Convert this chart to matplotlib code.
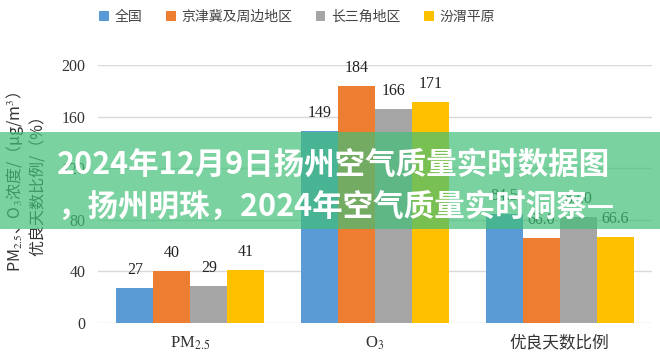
import matplotlib
matplotlib.use("Agg")
import matplotlib.pyplot as plt
from matplotlib.patches import Patch, Rectangle
import numpy as np

plt.rcParams['mathtext.fontset'] = 'stix'

CJK = 'Noto Sans CJK SC'
SERIF = 'Liberation Serif'

categories = ["PM$_{2.5}$", "O$_{3}$", "优良天数比例"]
series_names = ["全国", "京津冀及周边地区", "长三角地区", "汾渭平原"]
series_values = [
    [27, 149, 84.5],
    [40, 184, 66.0],
    [29, 166, 82.0],
    [41, 171, 66.6],
]
value_formats = ["{:.0f}", "{:.0f}", "{:.1f}"]
colors = ["#5B9BD5", "#ED7D31", "#A5A5A5", "#FFC000"]
yticks = [0, 40, 80, 120, 160, 200]

banner_lines = ["2024年12月9日扬州空气质量实时数据图", "，扬州明珠，2024年空气质量实时洞察—"]

fig = plt.figure(figsize=(6.6, 3.62), dpi=100)
ax = fig.add_axes([98 / 660, 1 - 323 / 362, 554 / 660, 258 / 362])

x = np.arange(len(categories))
width = 0.2
for i, vals in enumerate(series_values):
    pos = x + (i - 1.5) * width
    ax.bar(pos, vals, width=width, color=colors[i], zorder=2)
    for p, v, fmt in zip(pos, vals, value_formats):
        ax.annotate(fmt.format(v), (p, v), xytext=(0, 13), textcoords="offset points",
                    ha="center", va="center", fontsize=11.5, family=SERIF, color="#222222")

ax.set_xlim(-0.5, 2.5)
ax.set_ylim(0, 200)
ax.set_yticks(yticks)
ax.set_yticklabels([str(t) for t in yticks], family=SERIF, fontsize=11.5, color="#333333")
ax.set_xticks(x)
ax.set_xticklabels(categories, fontsize=12, color="#333333")
for lab, fam in zip(ax.get_xticklabels(), [SERIF, SERIF, CJK]):
    lab.set_fontfamily(fam)
ax.tick_params(axis="both", length=0)
ax.tick_params(axis="y", pad=9)
ax.tick_params(axis="x", pad=8)
ax.grid(axis="y", color="#D9D9D9", linewidth=1, zorder=0)
ax.set_axisbelow(True)
for s in ax.spines.values():
    s.set_visible(False)

# y axis title, two lines
fig.text(15 / 660, 1 - 182 / 362, "PM$_{2.5}$、O$_{3}$浓度/（μg/m$^{3}$）", rotation=90,
         ha="center", va="center", fontsize=11.5, family=CJK, color="#333333")
fig.text(38 / 660, 1 - 182 / 362, "优良天数比例/（%）", rotation=90,
         ha="center", va="center", fontsize=11.5, family=CJK, color="#333333")

handles = [Patch(facecolor=c) for c in colors]
fig.legend(handles, series_names, loc="center", bbox_to_anchor=(297 / 660, 1 - 17 / 362),
           ncol=4, frameon=False, prop={"family": CJK, "size": 10},
           handlelength=0.7, handleheight=0.7, handletextpad=0.4, columnspacing=1.7,
           labelcolor="#444444")

# green banner overlay
fig.add_artist(Rectangle((0, 1 - 229 / 362), 1, 97 / 362, transform=fig.transFigure,
                         facecolor=(64 / 255, 192 / 255, 119 / 255), alpha=0.7,
                         edgecolor="none", zorder=5))
for line, yc in zip(banner_lines, [165, 207]):
    fig.text(57 / 660, 1 - yc / 362, line, ha="left", va="center", fontsize=22,
             fontweight="bold", family=CJK, color="white", zorder=6)

fig.savefig("out.png", dpi=100)
